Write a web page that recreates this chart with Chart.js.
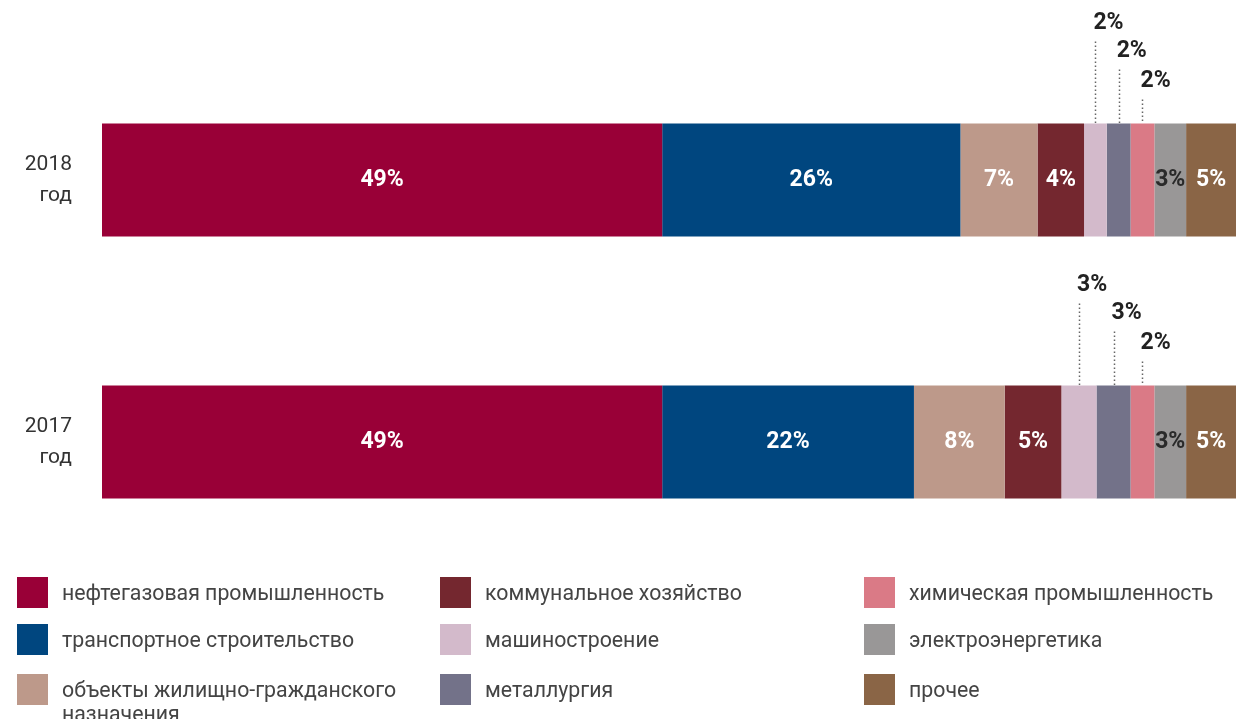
<!DOCTYPE html>
<html>
<head>
<meta charset="utf-8">
<script src="https://cdn.jsdelivr.net/npm/chart.js@4/dist/chart.umd.min.js"></script>
<style>
  body { margin: 0; background: #fff; }
  #wrap { position: relative; width: 1236px; height: 719px; overflow: hidden; }
  #chart { position: absolute; left: 0; top: 0; }
  .leg { position: absolute; font-family: Roboto, sans-serif; font-size: 21.3px; color: #444; line-height: 24px; }
  .leg .sq { position: absolute; left: 0; top: 0; width: 31px; height: 31px; }
  .leg .tx { position: absolute; left: 45px; top: 4px; width: 350px; }
</style>
</head>
<body>
<div id="wrap">
  <canvas id="chart" width="1236" height="719"></canvas>
  <div id="legend"></div>
</div>
<script>
const years = ['2018', '2017'];

const sectors = [
  'нефтегазовая промышленность',
  'транспортное строительство',
  'объекты жилищно-гражданского назначения',
  'коммунальное хозяйство',
  'машиностроение',
  'металлургия',
  'химическая промышленность',
  'электроэнергетика',
  'прочее'
];

// ширина сегментов, % (оценка по картинке), по годам [2018, 2017]
const neftegaz = [49.4, 49.4];
const transport = [26.3, 22.2];
const zhilie = [6.8, 8.0];
const kommunal = [4.1, 5.0];
const mashin = [2.0, 3.1];
const metall = [2.1, 3.0];
const himiya = [2.1, 2.1];
const energo = [2.8, 2.8];
const prochee = [4.4, 4.4];

// подписи, как на графике
const shown2018 = ['49%', '26%', '7%', '4%', '2%', '2%', '2%', '3%', '5%'];
const shown2017 = ['49%', '22%', '8%', '5%', '3%', '3%', '2%', '3%', '5%'];
const shown = [shown2018, shown2017];

const colors = ['#990037', '#00467f', '#bd998a', '#74272f', '#d3bacb', '#737289', '#da7a86', '#999797', '#8a6546'];
const textColors = ['#fff', '#fff', '#fff', '#fff', '#222', '#222', '#222', '#2a2a2a', '#fff'];
const outsideSets = [4, 5, 6];
const outsideOffsets = [100, 72, 42];

const series = [neftegaz, transport, zhilie, kommunal, mashin, metall, himiya, energo, prochee];

const segLabels = {
  id: 'segLabels',
  afterDatasetsDraw(chart) {
    const ctx = chart.ctx;
    const ys = chart.scales.y;
    ctx.save();
    // подписи годов
    ctx.fillStyle = '#333';
    ctx.font = '21px Roboto, sans-serif';
    ctx.textAlign = 'right';
    ctx.textBaseline = 'middle';
    chart.data.labels.forEach((lab, j) => {
      const y = ys.getPixelForValue(j);
      ctx.fillText(lab, 72, y - 15);
      ctx.fillText('год', 72, y + 16);
    });
    // подписи сегментов
    ctx.font = 'bold 23px Roboto, sans-serif';
    chart.data.datasets.forEach((ds, i) => {
      const meta = chart.getDatasetMeta(i);
      meta.data.forEach((bar, j) => {
        const p = bar.getProps(['x', 'y', 'base', 'height'], true);
        const cx = (p.x + p.base) / 2;
        const text = shown[j][i];
        const k = outsideSets.indexOf(i);
        if (k >= 0) {
          const top = p.y - p.height / 2;
          const ty = top - outsideOffsets[k];
          ctx.fillStyle = '#222';
          ctx.textAlign = 'left';
          ctx.fillText(text, cx - 2, ty);
          ctx.strokeStyle = '#666';
          ctx.lineWidth = 1.5;
          ctx.setLineDash([1.5, 2.5]);
          ctx.beginPath();
          ctx.moveTo(Math.round(cx) + 0.5, ty + 18);
          ctx.lineTo(Math.round(cx) + 0.5, top);
          ctx.stroke();
          ctx.setLineDash([]);
        } else {
          ctx.fillStyle = textColors[i];
          ctx.textAlign = 'center';
          ctx.fillText(text, cx, p.y);
        }
      });
    });
    ctx.restore();
  }
};

new Chart(document.getElementById('chart'), {
  type: 'bar',
  data: {
    labels: years,
    datasets: series.map((d, i) => ({
      label: sectors[i],
      data: d,
      backgroundColor: colors[i],
      borderWidth: 0,
      barPercentage: 0.431,
      categoryPercentage: 1
    }))
  },
  options: {
    indexAxis: 'y',
    responsive: false,
    animation: false,
    layout: { padding: { left: 102, right: 0, top: 49, bottom: 146 } },
    plugins: { legend: { display: false }, tooltip: { enabled: false } },
    scales: {
      x: { stacked: true, min: 0, max: 100, display: false },
      y: { stacked: true, display: false }
    }
  },
  plugins: [segLabels]
});

// легенда: 3 колонки по 3 строки
const legend = document.getElementById('legend');
const colX = [17, 440, 864];
const rowY = [577, 624, 674];
sectors.forEach((name, i) => {
  const el = document.createElement('div');
  el.className = 'leg';
  el.style.left = colX[Math.floor(i / 3)] + 'px';
  el.style.top = rowY[i % 3] + 'px';
  el.innerHTML = '<div class="sq" style="background:' + colors[i] + '"></div><div class="tx">' + name + '</div>';
  legend.appendChild(el);
});
</script>
</body>
</html>
